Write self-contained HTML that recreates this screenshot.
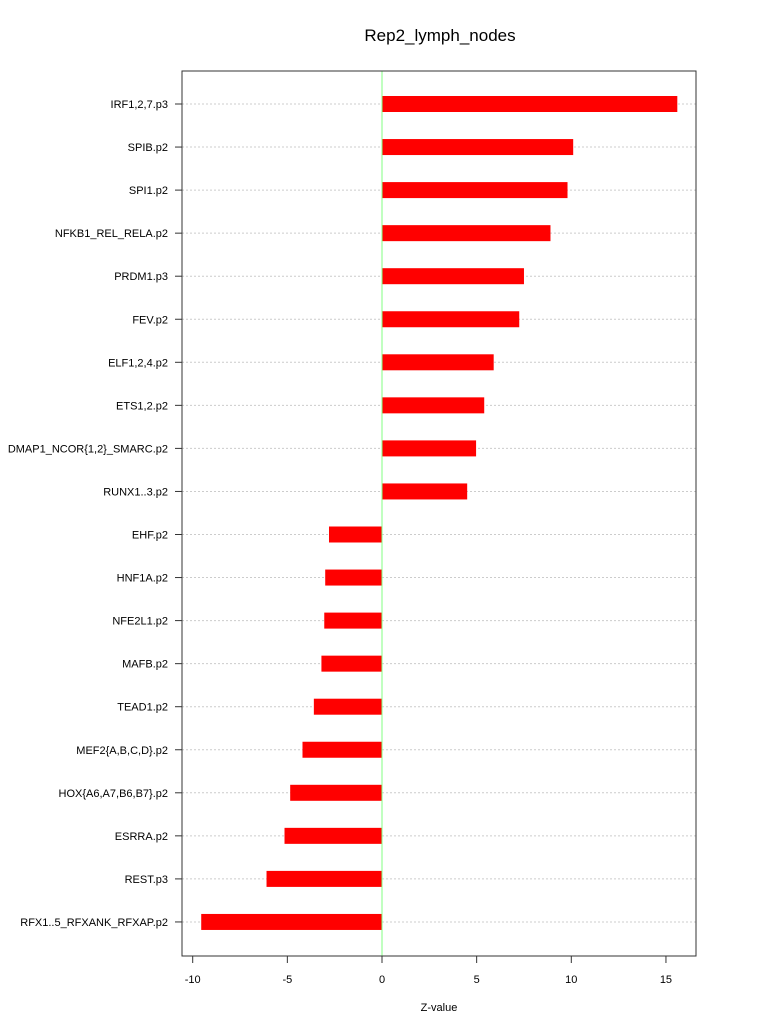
<!DOCTYPE html>
<html><head><meta charset="utf-8"><style>
body{margin:0;background:#fff;}
svg text{font-family:"Liberation Sans","DejaVu Sans",sans-serif;}
</style></head><body>
<svg id="chart" width="768" height="1028" xmlns="http://www.w3.org/2000/svg">
<text x="440" y="41" font-size="17" text-anchor="middle">Rep2_lymph_nodes</text>
<text x="439" y="1011" font-size="11" text-anchor="middle">Z-value</text>
<g id="grid"></g><g id="bars"></g><g id="axes"></g>
</svg>
<script>
const categories=["IRF1,2,7.p3","SPIB.p2","SPI1.p2","NFKB1_REL_RELA.p2","PRDM1.p3","FEV.p2","ELF1,2,4.p2","ETS1,2.p2","DMAP1_NCOR{1,2}_SMARC.p2","RUNX1..3.p2","EHF.p2","HNF1A.p2","NFE2L1.p2","MAFB.p2","TEAD1.p2","MEF2{A,B,C,D}.p2","HOX{A6,A7,B6,B7}.p2","ESRRA.p2","REST.p3","RFX1..5_RFXANK_RFXAP.p2"];
const values=[15.6,10.1,9.8,8.9,7.5,7.25,5.9,5.4,4.97,4.5,-2.8,-3.0,-3.05,-3.2,-3.6,-4.2,-4.85,-5.15,-6.1,-9.55];
const xTicks=[-10,-5,0,5,10,15];
const NS="http://www.w3.org/2000/svg";
const L=182,R=696,T=71,B=956;
const x=v=>382+v*18.93;
const y=i=>104+i*43.05;
function mk(tag,attrs,parent,txt){const e=document.createElementNS(NS,tag);for(const k in attrs)e.setAttribute(k,attrs[k]);if(txt!==undefined)e.textContent=txt;document.getElementById(parent).appendChild(e);return e;}
categories.forEach((c,i)=>{
  const g=mk('line',{x1:L,x2:R,y1:y(i),y2:y(i),stroke:'#ccc','stroke-dasharray':'2,2','stroke-width':1},'grid');
  
  
  const v=values[i];
  const b=mk('rect',{x:Math.min(x(0),x(v)),y:y(i)-8,width:Math.abs(x(v)-x(0)),height:16,fill:'#ff0000'},'bars');
  
  
  const t=mk('line',{x1:L-7,x2:L,y1:y(i),y2:y(i),stroke:'#333'},'axes');
  
  
  const lb=mk('text',{x:L-14,y:y(i)+4,'font-size':11,'text-anchor':'end'},'axes',c);
  
  
});
const z=mk('line',{x1:x(0),x2:x(0),y1:T,y2:B,stroke:'#80ff80','stroke-width':1},'axes');


const box=mk('rect',{x:L,y:T,width:R-L,height:B-T,fill:'none',stroke:'#333'},'axes');


xTicks.forEach(v=>{
  const t=mk('line',{x1:x(v),x2:x(v),y1:B,y2:B+7,stroke:'#333'},'axes');
  
  
  const lb=mk('text',{x:x(v),y:B+27,'font-size':11,'text-anchor':'middle'},'axes',String(v));
  
  
});
</script>
</body></html>
